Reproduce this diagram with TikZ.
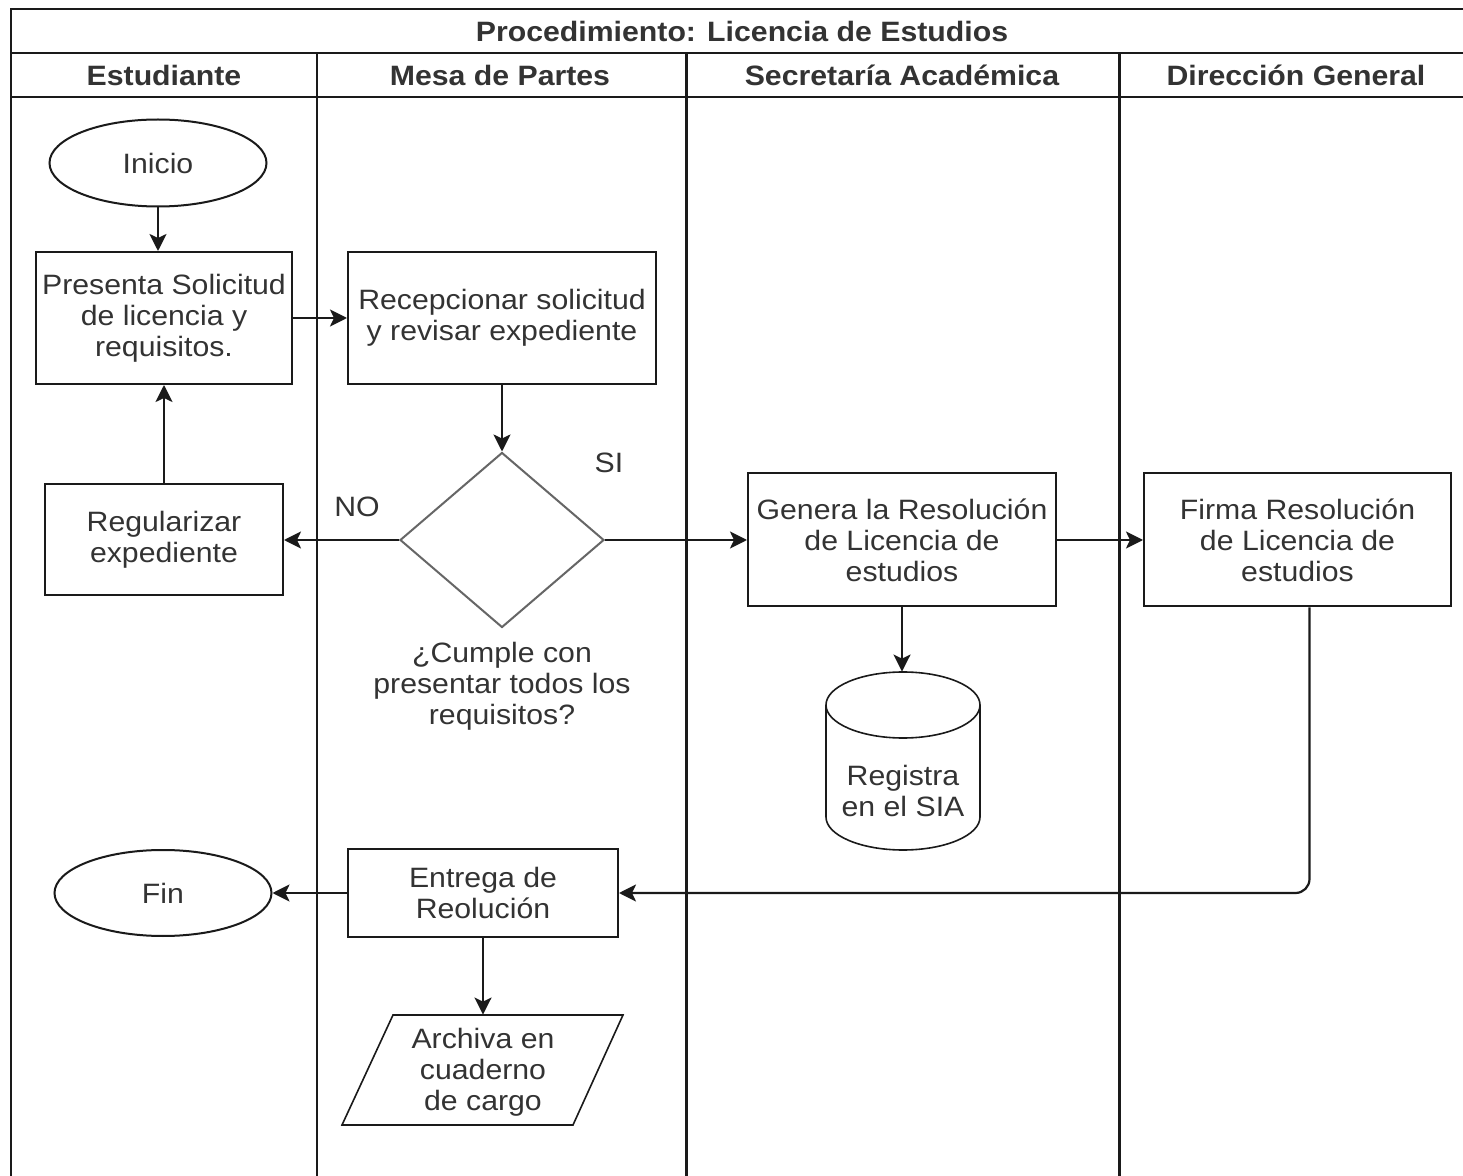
\documentclass[tikz,border=0pt]{standalone}
\usepackage{fontspec}
\setmainfont{Liberation Sans}[FakeStretch=1.08]
\usetikzlibrary{arrows.meta,shapes.geometric}
\definecolor{ink}{HTML}{1A1A1A}
\definecolor{txt}{HTML}{333333}
\begin{document}
\begin{tikzpicture}[x=0.5pt,y=-0.5pt,
  every node/.style={font=\fontsize{14pt}{15.5pt}\selectfont, text=txt, align=center, inner sep=0pt},
  proc/.style={draw=ink, line width=1pt, rectangle},
  term/.style={draw=ink, line width=1pt, ellipse},
  ghost/.style={rectangle},
  hdr/.style={font=\fontsize{14pt}{15.5pt}\selectfont\bfseries},
  lane/.style={draw=ink, line width=1pt},
  lanebold/.style={draw=ink, line width=1.5pt},
  flow/.style={draw=ink, line width=1.1pt, -{Stealth[length=8.5pt,width=8.5pt,inset=2pt]}},
  plain/.style={draw=ink, line width=0.8pt}]
\useasboundingbox (0,0) rectangle (1463,1176);
\clip (0,0) rectangle (1463,1176);
\fill[white] (0,0) rectangle (1463,1176);

% pool frame, header rows and lane dividers
\draw[lane] (11,1200) -- (11,9) -- (1500,9);
\draw[lane] (11,53) -- (1500,53);
\draw[lane] (11,97) -- (1500,97);
\draw[lane] (317,53) -- (317,1200);
\draw[lanebold] (686,53) -- (686,1200);
\draw[lanebold] (1119,53) -- (1119,1200);

\node[hdr] (title) at (742,31) {Procedimiento: Licencia de Estudios};
\node[hdr] (h1) at (164,75) {Estudiante};
\node[hdr] (h2) at (500,75) {Mesa de Partes};
\node[hdr] (h3) at (902,75) {Secretaría Académica};
\node[hdr] (h4) at (1296,75) {Dirección General};

% process nodes
\node[term, minimum width=108.5pt, minimum height=43.5pt] (inicio) at (158,163) {Inicio};
\node[proc, minimum width=128pt, minimum height=66pt] (presenta) at (164,318) {Presenta Solicitud\\de licencia y\\requisitos.};
\node[proc, minimum width=154pt, minimum height=66pt] (recep) at (502,318) {Recepcionar solicitud\\y revisar expediente};
\node[draw=black!60, line width=1pt, diamond, minimum width=102pt, minimum height=87.5pt] (dec) at (502,540) {};
\node (pregunta) at (502,686) {¿Cumple con\\presentar todos los\\requisitos?};
\node (si) at (609,463) {SI};
\node (no) at (357,507) {NO};
\node[proc, minimum width=119pt, minimum height=55.5pt] (regul) at (164,540) {Regularizar\\expediente};
\node[proc, minimum width=154pt, minimum height=66.5pt] (genera) at (902,540) {Genera la Resolución\\de Licencia de\\estudios};
\node[proc, minimum width=153.5pt, minimum height=66.5pt] (firma) at (1297.5,540) {Firma Resolución\\de Licencia de\\estudios};
\node[proc, minimum width=135pt, minimum height=44pt] (entrega) at (483,893) {Entrega de\\Reolución};
\node[term, minimum width=108.5pt, minimum height=43pt] (fin) at (163,893) {Fin};

% database cylinder
\node[ghost, minimum width=77pt, minimum height=89pt] (sia) at (903,761) {};
\draw[plain] (903,705) ellipse [x radius=38.5pt, y radius=16.5pt];
\draw[plain] (826,705) -- (826,817) arc [start angle=180, end angle=360, x radius=38.5pt, y radius=16.5pt] -- (980,705);
\node (siatxt) at (903,791) {Registra\\en el SIA};

% archive parallelogram
\node[ghost, minimum width=140pt, minimum height=55pt] (archiva) at (483,1070) {};
\draw[plain] (393,1015) -- (623,1015) -- (573,1125) -- (342,1125) -- cycle;
\node (archtxt) at (483,1072) {Archiva en\\cuaderno\\de cargo};

% connectors
\draw[flow] (inicio.south) -- (presenta.north -| inicio.south);
\draw[flow] (presenta.east) -- (recep.west);
\draw[flow] (recep.south) -- (dec.north);
\draw[flow] (dec.west) -- (regul.east);
\draw[flow] (regul.north) -- (presenta.south);
\draw[flow] (dec.east) -- (genera.west);
\draw[flow] (genera.east) -- (firma.west);
\draw[flow] (genera.south) -- (genera.south |- sia.north);
\draw[flow, rounded corners=7pt] ([xshift=6pt]firma.south) |- (entrega.east);
\draw[flow] (entrega.west) -- (fin.east);
\draw[flow] (entrega.south) -- (entrega.south |- archiva.north);
\end{tikzpicture}
\end{document}
